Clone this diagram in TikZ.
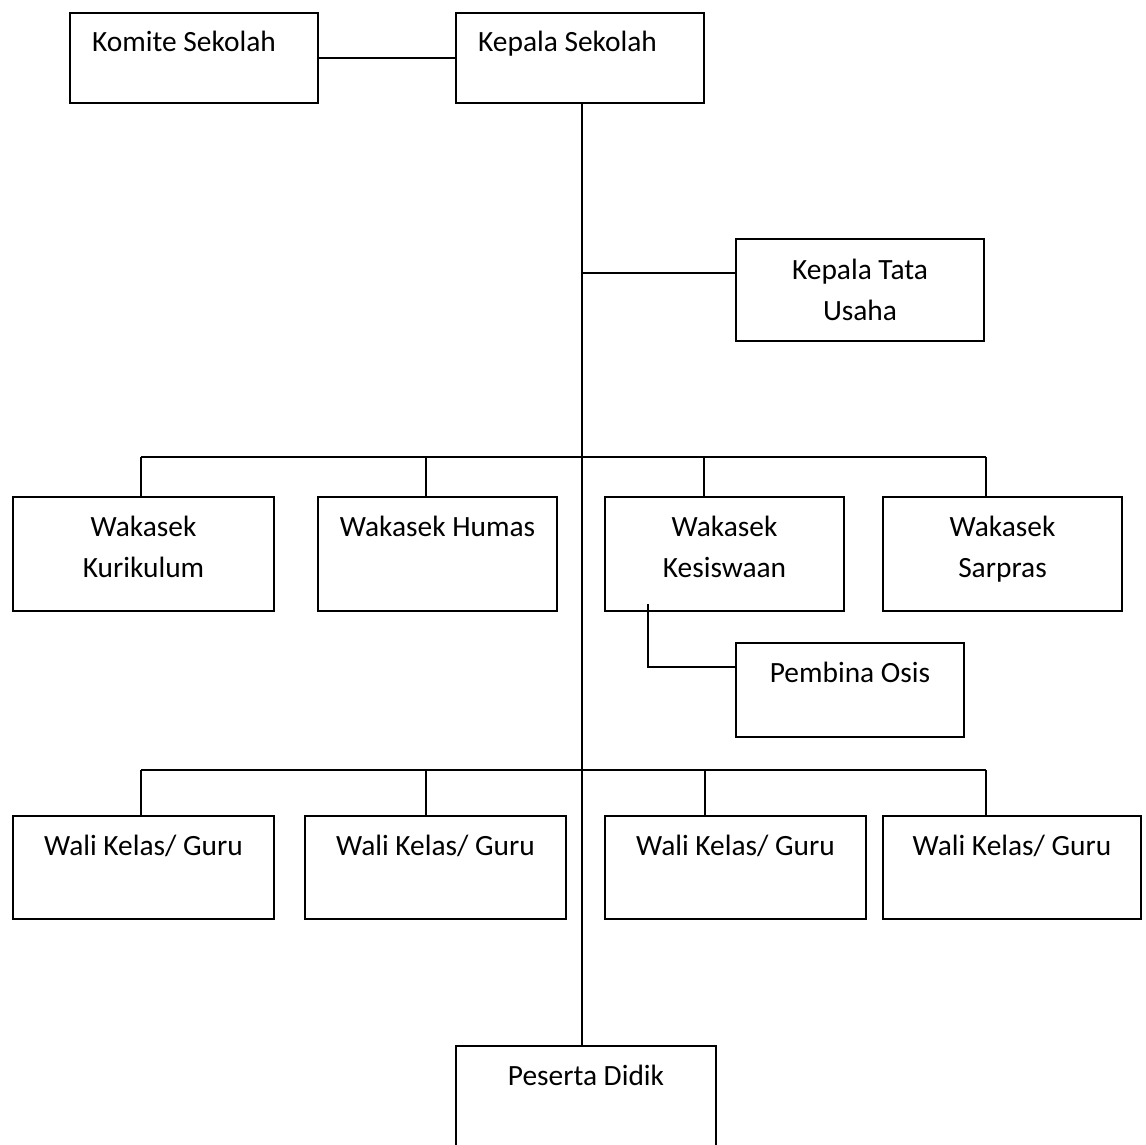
\documentclass[tikz,border=0pt]{standalone}
\usepackage{fontspec}
\setmainfont{Carlito}
\begin{document}
\begin{tikzpicture}[x=1pt,y=-1pt,
  box/.style={draw,line width=1.4pt,inner sep=0pt,outer sep=0pt},
  conn/.style={draw,line width=1.4pt},
  txt/.style={font=\fontsize{29.4}{41}\selectfont,inner sep=0pt,anchor=base}]
\fill[white] (0,0) rectangle (1146,1145);
\useasboundingbox (0,0) rectangle (1146,1145);
\clip (0,0) rectangle (1146,1145);
% boxes
\node[box,minimum width=248pt,minimum height=90pt] (kom) at (194,58) {};
\node[box,minimum width=248pt,minimum height=90pt] (kep) at (580,58) {};
\node[box,minimum width=248pt,minimum height=102pt] (ktu) at (860,290) {};
\node[box,minimum width=261pt,minimum height=114pt] (wk1) at (143.5,554) {};
\node[box,minimum width=239pt,minimum height=114pt] (wk2) at (437.5,554) {};
\node[box,minimum width=239pt,minimum height=114pt] (wk3) at (724.5,554) {};
\node[box,minimum width=239pt,minimum height=114pt] (wk4) at (1002.5,554) {};
\node[box,minimum width=228pt,minimum height=94pt] (pem) at (850,690) {};
\node[box,minimum width=261pt,minimum height=103pt] (wl1) at (143.5,867.5) {};
\node[box,minimum width=261pt,minimum height=103pt] (wl2) at (435.5,867.5) {};
\node[box,minimum width=261pt,minimum height=103pt] (wl3) at (735.5,867.5) {};
\node[box,minimum width=258pt,minimum height=103pt] (wl4) at (1012,867.5) {};
\node[box,minimum width=260pt,minimum height=154pt] (pes) at (586,1123) {};
% labels
\node[txt,anchor=base west] (komt) at ([xshift=22pt,yshift=-39pt]kom.north west) {Komite Sekolah};
\node[txt,anchor=base west] (kept) at ([xshift=22pt,yshift=-39pt]kep.north west) {Kepala Sekolah};
\node[txt] (ktut1) at ([yshift=-40pt]ktu.north) {Kepala Tata};
\node[txt] (ktut2) at ([yshift=-81pt]ktu.north) {Usaha};
\node[txt] (wk1t1) at ([yshift=-39pt]wk1.north) {Wakasek};
\node[txt] (wk1t2) at ([yshift=-80pt]wk1.north) {Kurikulum};
\node[txt] (wk2t1) at ([yshift=-39pt]wk2.north) {Wakasek Humas};
\node[txt] (wk3t1) at ([yshift=-39pt]wk3.north) {Wakasek};
\node[txt] (wk3t2) at ([yshift=-80pt]wk3.north) {Kesiswaan};
\node[txt] (wk4t1) at ([yshift=-39pt]wk4.north) {Wakasek};
\node[txt] (wk4t2) at ([yshift=-80pt]wk4.north) {Sarpras};
\node[txt] (pemt) at ([yshift=-39pt]pem.north) {Pembina Osis};
\node[txt] (wl1t) at ([yshift=-39pt]wl1.north) {Wali Kelas/ Guru};
\node[txt] (wl2t) at ([yshift=-39pt]wl2.north) {Wali Kelas/ Guru};
\node[txt] (wl3t) at ([yshift=-39pt]wl3.north) {Wali Kelas/ Guru};
\node[txt] (wl4t) at ([yshift=-39pt]wl4.north) {Wali Kelas/ Guru};
\node[txt] (pest) at ([yshift=-39pt]pes.north) {Peserta Didik};
% junction coordinates
\coordinate (sp) at (582,0);
\coordinate (a1) at (141,457);
\coordinate (a2) at (426,457);
\coordinate (a3) at (704,457);
\coordinate (a4) at (986,457);
\coordinate (c1) at (141,770);
\coordinate (c2) at (426,770);
\coordinate (c3) at (705,770);
\coordinate (c4) at (986,770);
\coordinate (ktuj) at ([yshift=17pt]ktu.west);
\coordinate (pemj) at ([yshift=23pt]pem.west);
\coordinate (kesj) at (648,604);
% connectors
\draw[conn] (kom) -- (kep);
\draw[conn] (kep.south -| sp) -- (pes.north -| sp);
\draw[conn] (ktuj) -- (ktuj -| sp);
\draw[conn] (a1) -- (a4);
\draw[conn] (a1) -- (a1 |- wk1.north);
\draw[conn] (a2) -- (a2 |- wk2.north);
\draw[conn] (a3) -- (a3 |- wk3.north);
\draw[conn] (a4) -- (a4 |- wk4.north);
\draw[conn] (kesj) |- (pemj);
\draw[conn] (c1) -- (c4);
\draw[conn] (c1) -- (c1 |- wl1.north);
\draw[conn] (c2) -- (c2 |- wl2.north);
\draw[conn] (c3) -- (c3 |- wl3.north);
\draw[conn] (c4) -- (c4 |- wl4.north);
\end{tikzpicture}
\end{document}
